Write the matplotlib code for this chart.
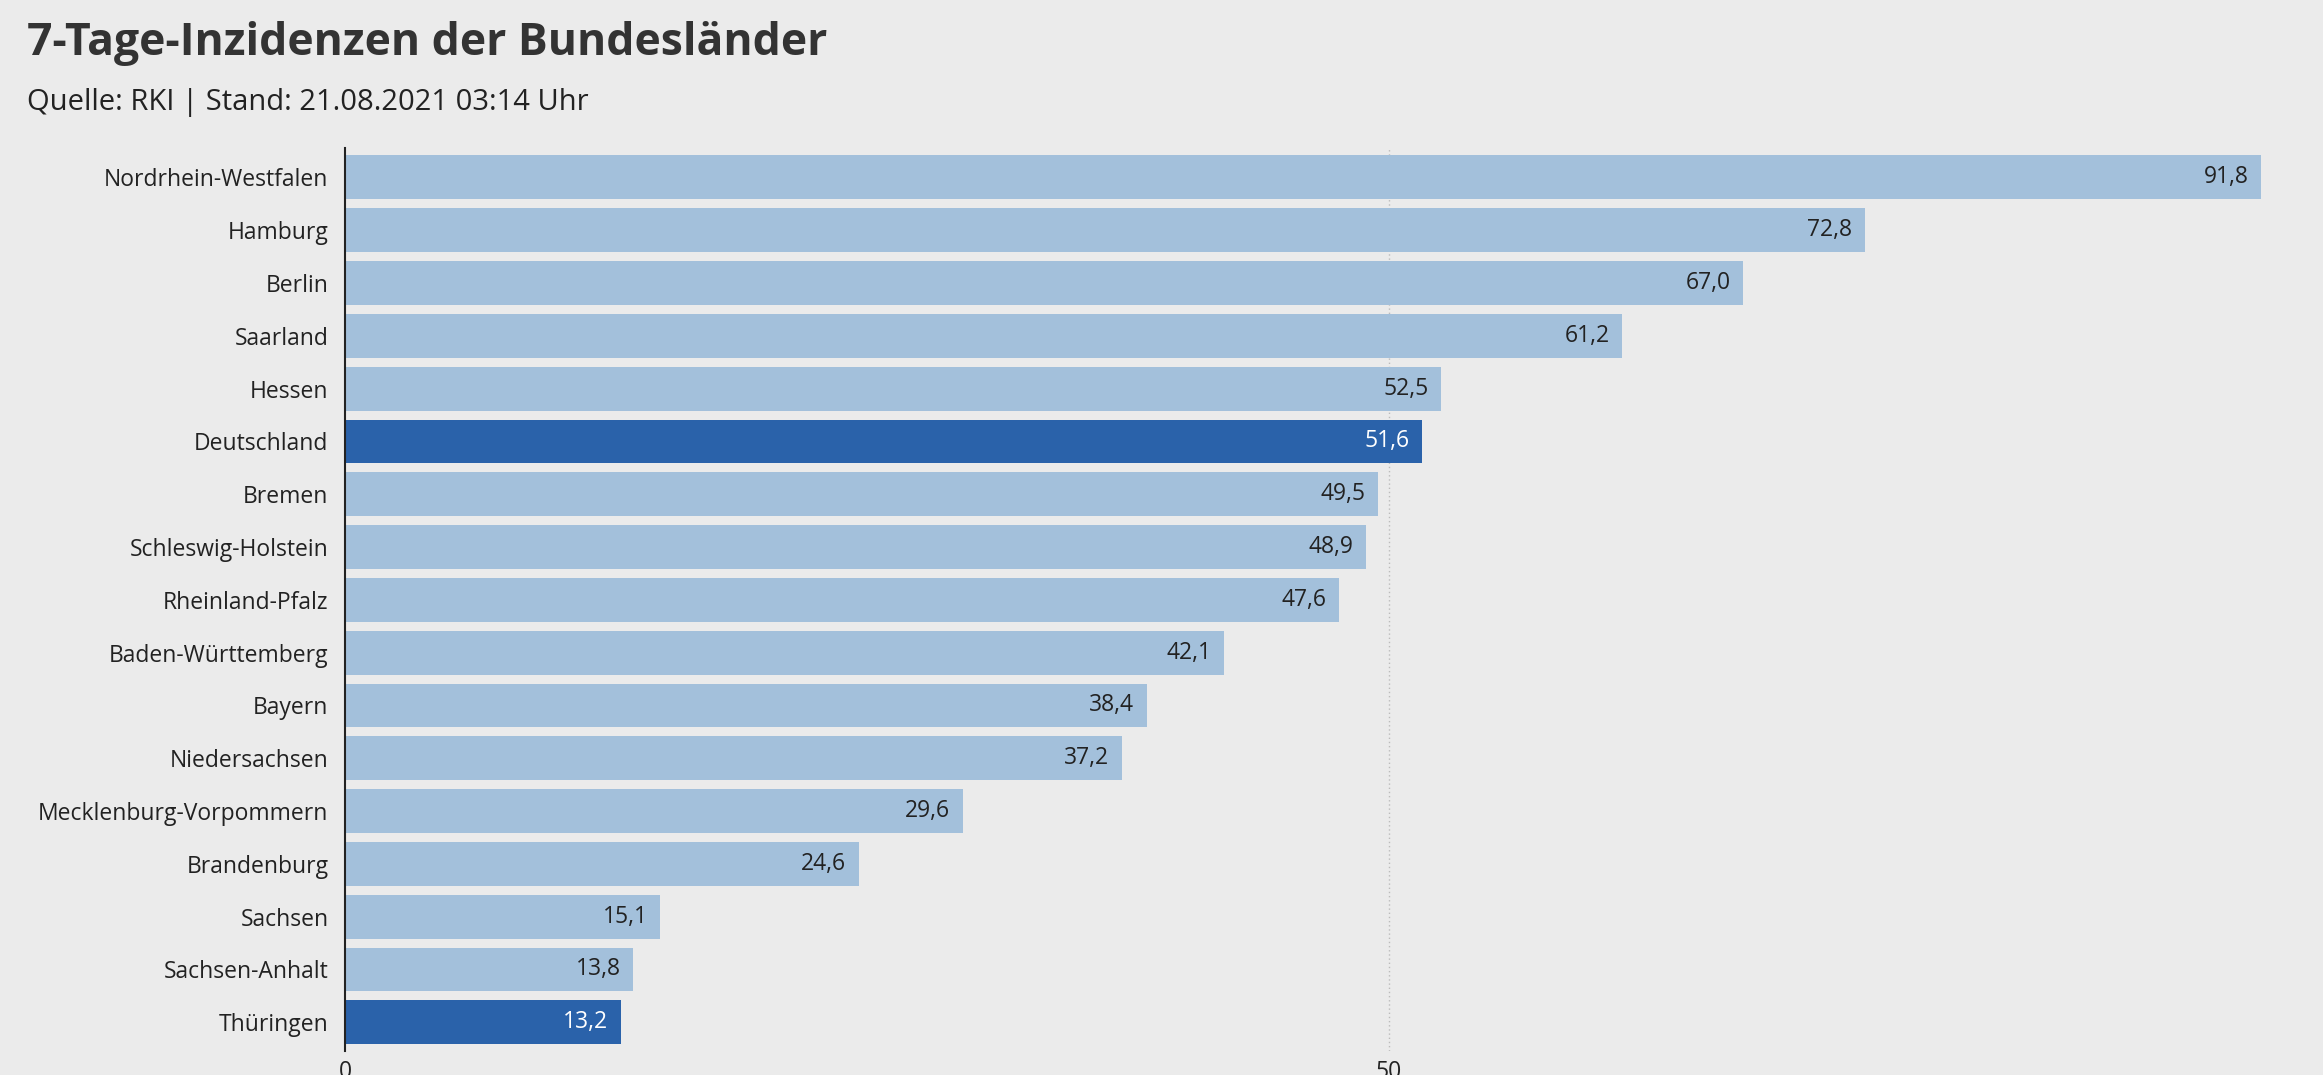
import matplotlib
matplotlib.use("Agg")
import matplotlib.pyplot as plt

states = ["Nordrhein-Westfalen", "Hamburg", "Berlin", "Saarland", "Hessen",
          "Deutschland", "Bremen", "Schleswig-Holstein", "Rheinland-Pfalz",
          "Baden-Württemberg", "Bayern", "Niedersachsen",
          "Mecklenburg-Vorpommern", "Brandenburg", "Sachsen", "Sachsen-Anhalt",
          "Thüringen"]
values = [91.8, 72.8, 67.0, 61.2, 52.5, 51.6, 49.5, 48.9, 47.6, 42.1, 38.4,
          37.2, 29.6, 24.6, 15.1, 13.8, 13.2]
highlight = ["Deutschland", "Thüringen"]

BG = "#ebebeb"
LIGHT = "#a3c0db"
DARK = "#2a62aa"
INK = "#222222"

plt.rcParams["font.family"] = ["Open Sans", "DejaVu Sans"]

fig = plt.figure(figsize=(23.23, 10.75), dpi=100, facecolor=BG)
ax = fig.add_axes([0.1486, 0.022, 0.849, 0.84], facecolor=BG)

ypos = list(range(len(states)))[::-1]
cols = [DARK if s in highlight else LIGHT for s in states]
ax.barh(ypos, values, height=0.83, color=cols, zorder=2)
for y, v, s in zip(ypos, values, states):
    ax.text(v - 0.6, y, f"{v:.1f}".replace(".", ","), ha="right", va="center",
            fontsize=16.5, color="white" if s in highlight else INK, zorder=3)

ax.set_yticks(ypos)
ax.set_yticklabels(states, fontsize=16.5, color=INK)
ax.set_ylim(-0.55, len(states) - 0.45)
ax.set_xlim(0, 94.5)
ax.set_xticks([0, 50])
ax.tick_params(axis="x", labelsize=16.5, length=0, colors=INK, pad=6)
ax.tick_params(axis="y", length=0, pad=12)
ax.axvline(50, color="#bbbbbb", lw=1, ls=(0, (1, 2)), zorder=1)
for s in ("top", "right", "bottom"):
    ax.spines[s].set_visible(False)
ax.spines["left"].set_color(INK)
ax.spines["left"].set_linewidth(1.5)

fig.text(0.0115, 0.96, "7-Tage-Inzidenzen der Bundesländer", fontsize=32,
         weight="bold", color="#333333", va="center")
fig.text(0.0115, 0.905, "Quelle: RKI | Stand: 21.08.2021 03:14 Uhr",
         fontsize=21, color=INK, va="center")

fig.savefig("out.png", facecolor=BG)
